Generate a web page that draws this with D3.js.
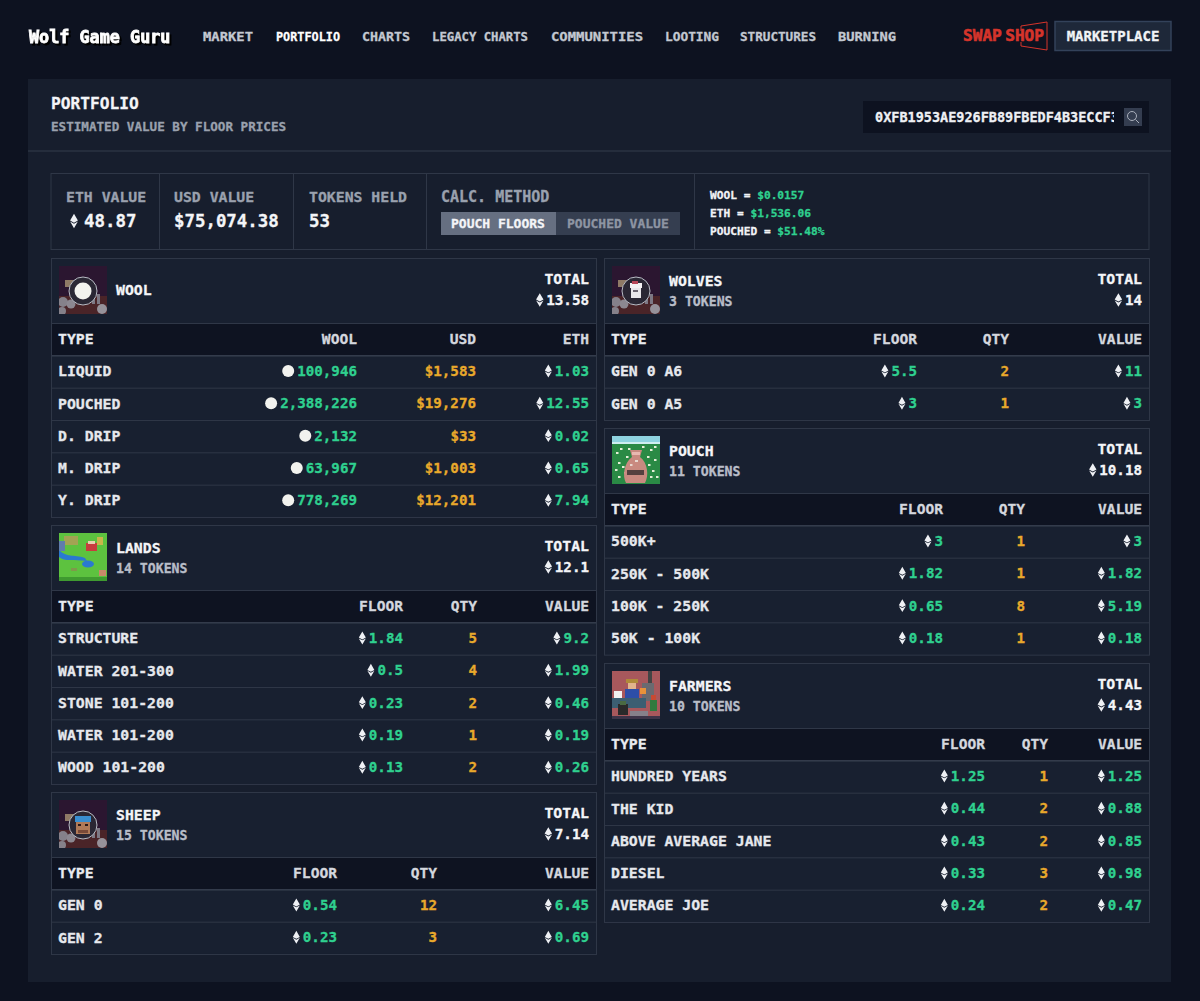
<!DOCTYPE html>
<html>
<head>
<meta charset="utf-8">
<title>Wolf Game Guru - Portfolio</title>
<script src="https://cdn.jsdelivr.net/npm/d3@7"></script>
<style>
  html, body { margin: 0; padding: 0; background: #0d1220; }
  svg { display: block; }
  text { font-family: "DejaVu Sans Mono", monospace; font-weight: bold; fill: #e9ebf0; }
</style>
</head>
<body>
<div id="chart"></div>
<script>
"use strict";

// navigation
var navItems = ["MARKET", "PORTFOLIO", "CHARTS", "LEGACY CHARTS", "COMMUNITIES", "LOOTING", "STRUCTURES", "BURNING"];

// summary
var statLabels = ["ETH VALUE", "USD VALUE", "TOKENS HELD"];
var statValues = [48.87, 75074.38, 53];
var priceLabels = ["WOOL = ", "ETH = ", "POUCHED = "];
var priceValues = ["$0.0157", "$1,536.06", "$51.48%"];

// wool
var woolTypes = ["LIQUID", "POUCHED", "D. DRIP", "M. DRIP", "Y. DRIP"];
var woolAmount = [100946, 2388226, 2132, 63967, 778269];
var woolUsd = [1583, 19276, 33, 1003, 12201];
var woolEth = [1.03, 12.55, 0.02, 0.65, 7.94];

// lands
var landTypes = ["STRUCTURE", "WATER 201-300", "STONE 101-200", "WATER 101-200", "WOOD 101-200"];
var landFloor = [1.84, 0.5, 0.23, 0.19, 0.13];
var landQty = [5, 4, 2, 1, 2];
var landValue = [9.2, 1.99, 0.46, 0.19, 0.26];

// sheep
var sheepTypes = ["GEN 0", "GEN 2"];
var sheepFloor = [0.54, 0.23];
var sheepQty = [12, 3];
var sheepValue = [6.45, 0.69];

// wolves
var wolfTypes = ["GEN 0 A6", "GEN 0 A5"];
var wolfFloor = [5.5, 3];
var wolfQty = [2, 1];
var wolfValue = [11, 3];

// pouch
var pouchTypes = ["500K+", "250K - 500K", "100K - 250K", "50K - 100K"];
var pouchFloor = [3, 1.82, 0.65, 0.18];
var pouchQty = [1, 1, 8, 1];
var pouchValue = [3, 1.82, 5.19, 0.18];

// farmers
var farmerTypes = ["HUNDRED YEARS", "THE KID", "ABOVE AVERAGE JANE", "DIESEL", "AVERAGE JOE"];
var farmerFloor = [1.25, 0.44, 0.43, 0.33, 0.24];
var farmerQty = [1, 2, 2, 3, 2];
var farmerValue = [1.25, 0.88, 0.85, 0.98, 0.47];

var GREEN = "#2fd08f", ORANGE = "#e9a92b", GRAY = "#9aa1ae", LINE = "#2f3747";
var fmtComma = d3.format(",");
var fmtUsd = d3.format("$,");

var svg = d3.select("#chart").append("svg").attr("width", 1200).attr("height", 1001);
var defs = svg.append("defs");

function label(g, x, y, str, size, fill, anchor) {
  return g.append("text")
    .attr("x", x).attr("y", y).attr("dy", "0.35em")
    .attr("text-anchor", anchor || "start")
    .style("font-size", size + "px")
    .style("fill", fill || "#e9ebf0")
    .style("stroke", fill || "#e9ebf0")
    .style("stroke-width", 0.3)
    .text(str);
}

function ethIcon(g, x, y, k) {
  g.append("path")
    .attr("transform", "translate(" + x + "," + y + ") scale(" + (k || 1) + ")")
    .attr("d", "M0,-6.8 L3.7,-0.4 L0,1.6 L-3.7,-0.4Z M-3.7,0.5 L0,2.5 L3.7,0.5 L0,6.8Z")
    .attr("fill", "#eef0f4");
}

svg.append("rect").attr("width", 1200).attr("height", 1001).attr("fill", "#0d1220");

// top nav
label(svg, 29, 37, "Wolf Game Guru", 16.8, "#fff")
  .style("stroke-width", 0.8)
  .style("filter", "drop-shadow(2px 2.5px 0 #000)");

var navX = [203, 276, 362, 432, 551, 665, 740, 838];
var navW = [50, 64, 48, 96, 92, 54, 76, 58];
navItems.forEach(function(d, i) {
  label(svg, navX[i], 37, d, 12.8, d === "PORTFOLIO" ? "#fff" : "#c3c8d1")
    .attr("textLength", navW[i]).attr("lengthAdjust", "spacingAndGlyphs");
});

label(svg, 963, 36, "SWAP SHOP", 15.4, "#d5342b").style("stroke-width", 0.6)
  .style("word-spacing", "-6px")
  .attr("textLength", 81).attr("lengthAdjust", "spacingAndGlyphs");
svg.append("path")
  .attr("d", "M1021,31 V26 L1047,22 V50 L1021,46 V42")
  .attr("fill", "none").attr("stroke", "#d5342b").attr("stroke-width", 1);
svg.append("rect").attr("x", 1055).attr("y", 21.5).attr("width", 116).attr("height", 29)
  .attr("fill", "#1e2839").attr("stroke", "#33425a").attr("stroke-width", 1.5);
label(svg, 1113, 36, "MARKETPLACE", 14, "#f1f3f6", "middle");

// main panel
svg.append("rect").attr("x", 28).attr("y", 79).attr("width", 1143).attr("height", 903).attr("fill", "#171e2d");
svg.append("line").attr("x1", 28).attr("x2", 1171).attr("y1", 151).attr("y2", 151)
  .attr("stroke", "#2b3342").attr("stroke-width", 1.5);
label(svg, 51, 103, "PORTFOLIO", 16.2, "#f4f5f8");
label(svg, 51, 127, "ESTIMATED VALUE BY FLOOR PRICES", 12.6, GRAY);

svg.append("rect").attr("x", 863).attr("y", 101).attr("width", 286).attr("height", 32).attr("fill", "#0d1220");
defs.append("clipPath").attr("id", "addr").append("rect")
  .attr("x", 870).attr("y", 101).attr("width", 244).attr("height", 32);
label(svg.append("g").attr("clip-path", "url(#addr)"), 875, 117, "0XFB1953AE926FB89FBEDF4B3ECCF3", 13.5, "#eef0f4");
svg.append("rect").attr("x", 1124).attr("y", 108).attr("width", 18).attr("height", 18).attr("fill", "#343d50");
svg.append("circle").attr("cx", 1132).attr("cy", 116).attr("r", 4.5)
  .attr("fill", "none").attr("stroke", "#aab0bc");
svg.append("line").attr("x1", 1135.5).attr("y1", 119.5).attr("x2", 1139).attr("y2", 123)
  .attr("stroke", "#aab0bc");

// summary box
svg.append("rect").attr("x", 51).attr("y", 173.5).attr("width", 1098).attr("height", 76)
  .attr("fill", "none").attr("stroke", LINE);
[159, 293, 426, 694].forEach(function(x) {
  svg.append("line").attr("x1", x + 0.5).attr("x2", x + 0.5).attr("y1", 174).attr("y2", 249).attr("stroke", LINE);
});
var statX = [66, 174, 309];
statLabels.forEach(function(d, i) { label(svg, statX[i], 197, d, 14.8, GRAY); });
ethIcon(svg, 74, 221, 1.05);
label(svg, 84, 221, statValues[0], 17.4, "#f4f5f8");
label(svg, 174, 221, "$" + d3.format(",.2f")(statValues[1]), 17.4, "#f4f5f8");
label(svg, 309, 221, statValues[2], 17.4, "#f4f5f8");

label(svg, 441, 197, "CALC. METHOD", 15, GRAY);
svg.append("rect").attr("x", 441).attr("y", 212).attr("width", 239).attr("height", 23).attr("fill", "#353e50");
svg.append("rect").attr("x", 441).attr("y", 212).attr("width", 115).attr("height", 23).attr("fill", "#666f81");
label(svg, 451, 223.5, "POUCH FLOORS", 13, "#f4f5f8");
label(svg, 567, 223.5, "POUCHED VALUE", 13, "#8e95a3");

var priceY = d3.scalePoint().domain(priceLabels).range([195, 231]);
priceLabels.forEach(function(d, i) {
  var t = label(svg, 710, priceY(d), d, 11.2, "#f1f3f6");
  t.append("tspan").style("fill", GREEN).style("stroke", GREEN).text(priceValues[i]);
});

// thumbnails, drawn in a local 48x48 box
function thumb(g, kind, id) {
  defs.append("clipPath").attr("id", id).append("rect").attr("width", 48).attr("height", 48);
  var t = g.append("g").attr("clip-path", "url(#" + id + ")");
  function box(x, y, w, h, c) { t.append("rect").attr("x", x).attr("y", y).attr("width", w).attr("height", h).attr("fill", c); }
  function dot(x, y, r, c) { t.append("circle").attr("cx", x).attr("cy", y).attr("r", r).attr("fill", c); }

  if (kind === "lands") {
    box(0, 0, 48, 48, "#5dc23f");
    box(5, 3, 14, 9, "#a3a353");
    t.append("path").attr("d", "M0,17 C8,25 14,21 26,25 L28,28 C14,26 6,29 0,24Z").attr("fill", "#2a79d0");
    box(0, 8, 6, 10, "#5f7cac");
    box(27, 10, 11, 8, "#c83d3d");
    box(29, 8, 7, 3, "#e8d0b0");
    box(38, 4, 6, 8, "#c9b64a");
    t.append("ellipse").attr("cx", 29).attr("cy", 31).attr("rx", 6).attr("ry", 3.5).attr("fill", "#2a79d0");
    box(12, 35, 6, 3, "#7e9a4a");
    box(40, 37, 7, 6, "#c88a6a");
    box(0, 44, 48, 4, "#3f9a30");
  } else if (kind === "pouch") {
    box(0, 0, 48, 48, "#2a8a45");
    box(0, 0, 48, 6, "#8fd3e0");
    box(0, 6, 48, 2, "#cfeef0");
    [[8, 12], [14, 20], [6, 26], [38, 13], [42, 23], [35, 20], [12, 36], [40, 34], [4, 16], [44, 40],
     [10, 30], [36, 28], [6, 40], [30, 10], [16, 12], [42, 10], [3, 33], [38, 40]].forEach(function(p) {
      box(p[0], p[1], 2.5, 2, "#e6efd8");
    });
    t.append("path").attr("d", "M18,14 H30 L28,21 C36,27 37,40 33,47 H14 C10,40 12,27 20,21Z").attr("fill", "#c98a80");
    box(15, 34, 17, 5, "#55403f");
    box(20, 16, 8, 3, "#e8b8b0");
    box(23, 24, 3, 2, "#e8d8d0");
    box(18, 28, 2.5, 2, "#e8d8d0");
  } else if (kind === "farmers") {
    box(0, 0, 48, 48, "#a8585c");
    box(36, 0, 4, 14, "#444");
    box(30, 12, 12, 18, "#6a6a70");
    box(2, 20, 8, 7, "#f2f2f2");
    box(14, 8, 12, 4, "#b08a3a");
    box(16, 12, 8, 6, "#e2b48c");
    box(13, 18, 14, 10, "#2d4ea8");
    box(28, 17, 6, 6, "#e8923a");
    box(0, 27, 34, 10, "#3c5e72");
    box(6, 33, 10, 11, "#2a2a2a");
    box(8, 30, 6, 4, "#4a6a42");
    box(39, 24, 5, 5, "#c84a32");
    box(38, 29, 7, 11, "#2f7a3e");
    box(18, 40, 18, 5, "#86808a");
    box(0, 45, 48, 3, "#3d3448");
  } else {
    box(0, 0, 48, 48, "#2b1630");
    box(0, 30, 48, 18, "#4a2428");
    box(6, 14, 10, 7, "#8f7a66");
    box(33, 25, 3, 13, "#7d7884");
    box(38, 28, 3, 10, "#7d7884");
    dot(4, 36, 5, "#85818a");
    dot(12, 38, 4.5, "#8c8891");
    dot(43, 43, 5, "#96929a");
    dot(3, 45, 4, "#85818a");
    dot(24, 25, 14, "#2a2734");
    t.append("circle").attr("cx", 24).attr("cy", 25).attr("r", 14)
      .attr("fill", "none").attr("stroke", "#b9bcc5").attr("stroke-width", 1);
    if (kind === "wool") {
      dot(24, 25, 8.5, "#f2f2ee");
    } else if (kind === "wolves") {
      box(19, 21, 10, 11, "#e8e6ea");
      box(18, 17, 12, 5, "#f4f2f4");
      box(20, 15, 6, 3, "#b8485a");
      box(21, 24, 5, 2, "#6a6470");
    } else if (kind === "sheep") {
      box(16, 16, 16, 6, "#3a8ed0");
      box(17, 22, 14, 12, "#b07a58");
      box(19, 24, 3, 2, "#2a1a1a");
      box(26, 24, 3, 2, "#2a1a1a");
      box(19, 30, 10, 3, "#7a4a38");
    }
  }
}

// one portfolio card: header + table
function card(c) {
  var x0 = c.left, x1 = c.left + 545, top = c.top;
  var h = 65 + 32.33 * (c.rows.length + 1);
  var g = svg.append("g");

  var rowY = d3.scaleBand()
    .domain(d3.range(c.rows.length + 1))
    .range([top + 65, top + h]);

  var colX = d3.scaleOrdinal().domain(c.columns).range(c.right);

  g.append("rect").attr("x", x0 + 0.5).attr("y", top + 0.5).attr("width", 545).attr("height", h)
    .attr("fill", "#182030").attr("stroke", LINE);
  g.append("rect").attr("x", x0 + 1).attr("y", rowY(0)).attr("width", 544).attr("height", rowY.bandwidth())
    .attr("fill", "#0e1321");

  rowY.domain().forEach(function(i) {
    g.append("line")
      .attr("x1", x0 + 1).attr("x2", x1)
      .attr("y1", rowY(i) + 0.5).attr("y2", rowY(i) + 0.5)
      .attr("stroke", LINE);
  });
  g.append("line").attr("x1", x0 + 1).attr("x2", x1)
    .attr("y1", rowY(1) + 0.5).attr("y2", rowY(1) + 0.5).attr("stroke", "#3b4354");

  // card head
  var th = g.append("g").attr("transform", "translate(" + (x0 + 8) + "," + (top + 8) + ")");
  thumb(th, c.kind, "thumb-" + c.kind);
  if (c.tokens) {
    label(g, x0 + 65, top + 23, c.title, 14.8, "#f4f5f8");
    label(g, x0 + 65, top + 43, c.tokens + " TOKENS", 13.2, "#b8bdc8");
  } else {
    label(g, x0 + 65, top + 32, c.title, 14.8, "#f4f5f8");
  }
  label(g, x1 - 7, top + 21, "TOTAL", 14.8, "#f4f5f8", "end");
  var tot = label(g, x1 - 7, top + 42, c.total, 14.2, "#f4f5f8", "end");
  ethIcon(g, x1 - 7 - tot.node().getComputedTextLength() - 6.5, top + 42);

  // table head
  var ty = rowY(0) + rowY.bandwidth() / 2 - 0.5;
  label(g, x0 + 7, ty, "TYPE", 14.8, "#e9ebf0");
  c.columns.forEach(function(col) {
    label(g, colX(col), ty, col, 14.6, "#d4d7de", "end");
  });

  // table rows
  c.rows.forEach(function(name, r) {
    var y = rowY(r + 1) + rowY.bandwidth() / 2 - 0.5;
    label(g, x0 + 7, y, name, 14.8, "#e6e8ed");
    c.columns.forEach(function(col, j) {
      var kind = c.kinds[j], v = c.values[j][r], t;
      if (kind === "wool") {
        t = label(g, colX(col), y, fmtComma(v), 14.2, GREEN, "end");
        g.append("circle").attr("cx", colX(col) - t.node().getComputedTextLength() - 9)
          .attr("cy", y).attr("r", 6).attr("fill", "#f2f2ee");
      } else if (kind === "usd") {
        label(g, colX(col), y, fmtUsd(v), 14.2, ORANGE, "end");
      } else if (kind === "qty") {
        label(g, colX(col), y, v, 14.2, ORANGE, "end");
      } else {
        t = label(g, colX(col), y, v, 14.2, GREEN, "end");
        ethIcon(g, colX(col) - t.node().getComputedTextLength() - 6.5, y, 0.95);
      }
    });
  });
}

var floorKinds = ["eth", "qty", "eth"];

card({ kind: "wool", title: "WOOL", total: 13.58, left: 51, top: 258,
  rows: woolTypes, columns: ["WOOL", "USD", "ETH"], kinds: ["wool", "usd", "eth"],
  values: [woolAmount, woolUsd, woolEth], right: [357, 476, 589] });
card({ kind: "lands", title: "LANDS", tokens: 14, total: 12.1, left: 51, top: 525,
  rows: landTypes, columns: ["FLOOR", "QTY", "VALUE"], kinds: floorKinds,
  values: [landFloor, landQty, landValue], right: [403, 477, 589] });
card({ kind: "sheep", title: "SHEEP", tokens: 15, total: 7.14, left: 51, top: 792,
  rows: sheepTypes, columns: ["FLOOR", "QTY", "VALUE"], kinds: floorKinds,
  values: [sheepFloor, sheepQty, sheepValue], right: [337, 437, 589] });
card({ kind: "wolves", title: "WOLVES", tokens: 3, total: 14, left: 604, top: 258,
  rows: wolfTypes, columns: ["FLOOR", "QTY", "VALUE"], kinds: floorKinds,
  values: [wolfFloor, wolfQty, wolfValue], right: [917, 1009, 1142] });
card({ kind: "pouch", title: "POUCH", tokens: 11, total: 10.18, left: 604, top: 428,
  rows: pouchTypes, columns: ["FLOOR", "QTY", "VALUE"], kinds: floorKinds,
  values: [pouchFloor, pouchQty, pouchValue], right: [943, 1025, 1142] });
card({ kind: "farmers", title: "FARMERS", tokens: 10, total: 4.43, left: 604, top: 663,
  rows: farmerTypes, columns: ["FLOOR", "QTY", "VALUE"], kinds: floorKinds,
  values: [farmerFloor, farmerQty, farmerValue], right: [985, 1048, 1142] });
</script>
</body>
</html>
